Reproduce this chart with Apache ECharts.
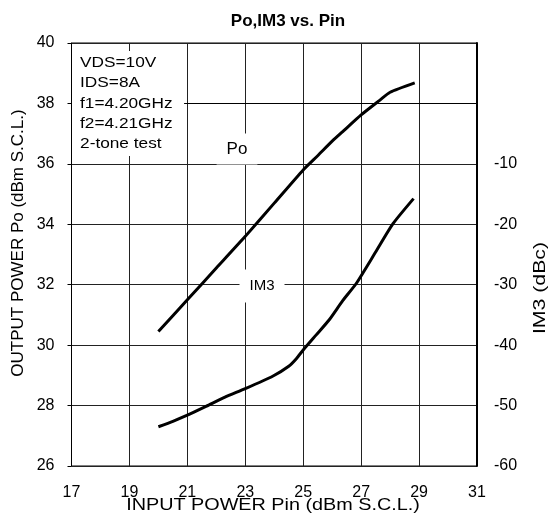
<!DOCTYPE html>
<html>
<head>
<meta charset="utf-8">
<script src="https://cdn.jsdelivr.net/npm/echarts@6/dist/echarts.min.js"></script>
<style>
  html, body { margin: 0; padding: 0; background: #fff; }
  #chart { width: 550px; height: 521px; }
</style>
</head>
<body>
<div id="chart"></div>
<script>
// ---- data ----
const poPin = [20, 21, 22, 23, 24, 25, 25.5, 26, 26.4, 27, 27.65, 28, 28.85];
const poOut = [30.45, 31.5, 32.55, 33.6, 34.7, 35.8, 36.27, 36.75, 37.1, 37.62, 38.11, 38.37, 38.68];

const im3Pin = [20, 20.5, 21, 21.66, 22.3, 23, 23.96, 24.5, 24.77, 25, 25.45, 25.9, 26.37, 26.83, 27.5, 28.1, 28.81];
const im3Val = [-53.5, -52.6, -51.6, -50.1, -48.6, -47.2, -45.1, -43.5, -42.2, -40.8, -38.3, -35.8, -32.6, -29.8, -24.6, -19.9, -15.75];

const xTicks = [17, 19, 21, 23, 25, 27, 29, 31];
const leftTicks = [26, 28, 30, 32, 34, 36, 38, 40];
const rightTicks = [-60, -50, -40, -30, -20, -10];

const conditions = ['VDS=10V', 'IDS=8A', 'f1=4.20GHz', 'f2=4.21GHz', '2-tone test'];
const titleText = 'Po,IM3 vs. Pin';
const xName = 'INPUT POWER Pin (dBm S.C.L.)';
const leftName = 'OUTPUT POWER Po (dBm S.C.L.)';
const rightName = 'IM3 (dBc)';

const FONT = '"Liberation Sans", Arial, Helvetica, sans-serif';

const poData = poPin.map((x, i) => [x, poOut[i]]);
const im3Data = im3Pin.map((x, i) => [x, im3Val[i]]);

const chart = echarts.init(document.getElementById('chart'), null, { renderer: 'canvas' });

const option = {
  backgroundColor: '#fff',
  animation: false,
  title: {
    text: titleText,
    left: 283,
    top: 8,
    textAlign: 'center',
    textStyle: { fontFamily: FONT, fontSize: 17, fontWeight: 'bold', color: '#000' }
  },
  grid: {
    left: 71.5, right: 73, top: 43, bottom: 55,
    show: true, borderColor: '#000', borderWidth: 1, backgroundColor: 'transparent'
  },
  xAxis: {
    type: 'value',
    min: xTicks[0], max: xTicks[xTicks.length - 1], interval: 2,
    axisLine: { show: true, lineStyle: { color: '#000', width: 1 } },
    axisTick: { show: false },
    axisLabel: { fontFamily: FONT, fontSize: 16, color: '#000', margin: 19 },
    splitLine: { show: true, lineStyle: { color: '#222', width: 1 } }
  },
  yAxis: [
    {
      type: 'value',
      position: 'left',
      min: leftTicks[0], max: leftTicks[leftTicks.length - 1], interval: 2,
      axisLine: { show: true, lineStyle: { color: '#000', width: 1 } },
      axisTick: { show: true, length: 4, lineStyle: { color: '#000' } },
      axisLabel: { fontFamily: FONT, fontSize: 16, color: '#000', margin: 17 },
      splitLine: { show: true, lineStyle: { color: '#222', width: 1 } }
    },
    {
      type: 'value',
      position: 'right',
      min: -60, max: 10, interval: 10,
      axisLine: { show: true, lineStyle: { color: '#000', width: 2 } },
      axisTick: { show: false },
      axisLabel: {
        fontFamily: FONT, fontSize: 16, color: '#000', margin: 17,
        formatter: v => (rightTicks.indexOf(v) >= 0 ? String(v) : '')
      },
      splitLine: { show: false }
    }
  ],
  graphic: [
    {
      type: 'text', x: 72, y: 51, scaleX: 1.15, z: 50,
      style: {
        text: conditions.join('\n'),
        fontFamily: FONT, fontSize: 15, lineHeight: 20.2, fill: '#000',
        backgroundColor: '#fff', padding: [2, 10, 2, 7]
      }
    },
    {
      type: 'text', x: 237, y: 149, z: 50,
      style: {
        text: 'Po', fontFamily: FONT, fontSize: 17, fill: '#000',
        align: 'center', verticalAlign: 'middle',
        backgroundColor: '#fff', padding: [7, 10, 7, 10]
      }
    },
    {
      type: 'text', x: 262, y: 286, z: 50,
      style: {
        text: 'IM3', fontFamily: FONT, fontSize: 15, fill: '#000',
        align: 'center', verticalAlign: 'middle',
        backgroundColor: '#fff', padding: [9, 10, 9, 10]
      }
    },
    {
      type: 'text', x: 273, y: 505, scaleX: 1.2, z: 50,
      style: {
        text: xName, fontFamily: FONT, fontSize: 16.5, fill: '#000',
        align: 'center', verticalAlign: 'middle'
      }
    },
    {
      type: 'text', x: 18, y: 243, rotation: Math.PI / 2, z: 50,
      style: {
        text: leftName, fontFamily: FONT, fontSize: 17, fill: '#000',
        align: 'center', verticalAlign: 'middle'
      }
    },
    {
      type: 'text', x: 540, y: 288, rotation: Math.PI / 2, scaleX: 1.25, z: 50,
      style: {
        text: rightName, fontFamily: FONT, fontSize: 17, fill: '#000',
        align: 'center', verticalAlign: 'middle'
      }
    }
  ],
  series: [
    {
      name: 'Po', type: 'line', yAxisIndex: 0, data: poData,
      showSymbol: false, smooth: 0.2, z: 60,
      lineStyle: { color: '#000', width: 3 }
    },
    {
      name: 'IM3', type: 'line', yAxisIndex: 1, data: im3Data,
      showSymbol: false, smooth: 0.2, z: 60,
      lineStyle: { color: '#000', width: 3 }
    }
  ]
};

chart.setOption(option);
</script>
</body>
</html>
